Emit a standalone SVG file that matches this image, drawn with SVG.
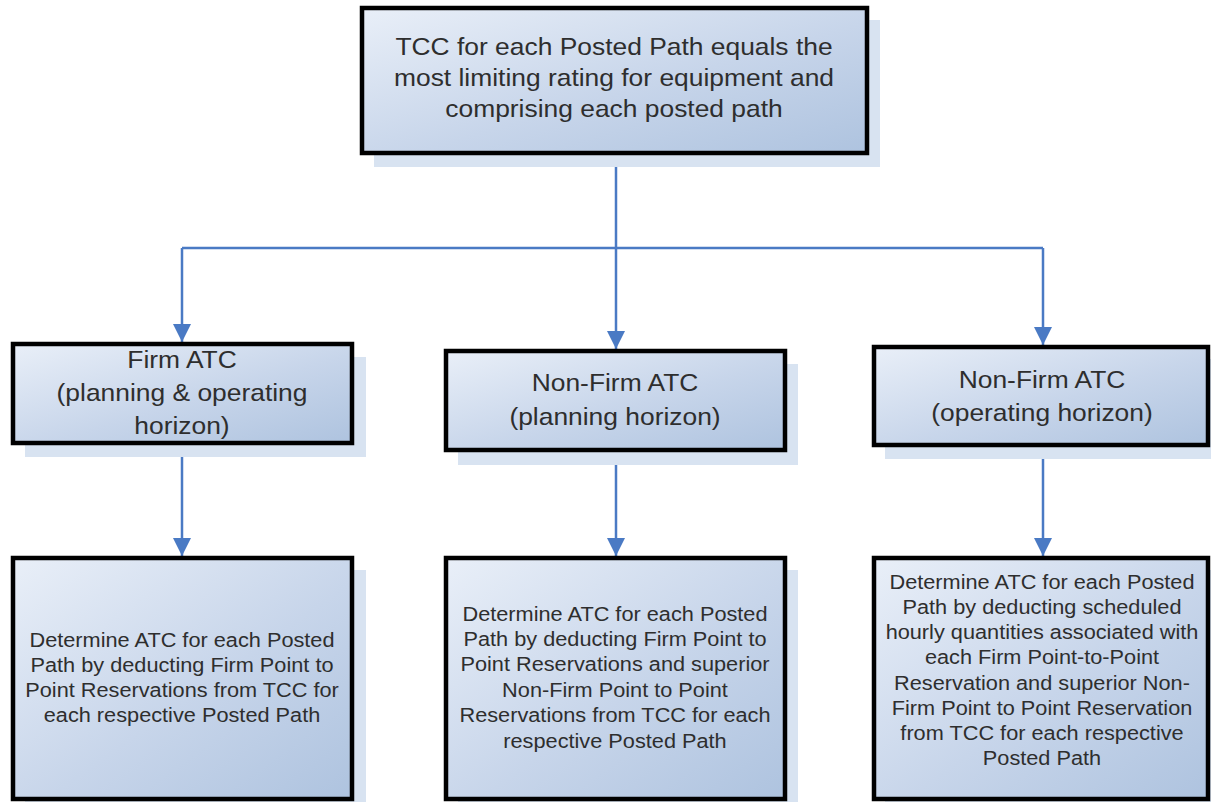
<svg xmlns="http://www.w3.org/2000/svg" width="1211" height="802" viewBox="0 0 1211 802">
<defs>
<linearGradient id="fill" x1="0" y1="0" x2="1" y2="1">
<stop offset="0" stop-color="#e9eff8"/>
<stop offset="0.55" stop-color="#c7d5ea"/>
<stop offset="1" stop-color="#aec3df"/>
</linearGradient>
<marker id="arrow" viewBox="0 0 10 10" refX="10" refY="5" markerWidth="18" markerHeight="18" markerUnits="userSpaceOnUse" orient="auto">
<path d="M0,0 L10,5 L0,10 z" fill="#4a7ac4"/>
</marker>
<style>
.shadow{fill:#d8e3f1;}
.box{fill:url(#fill);stroke:#000;stroke-width:4.5;}
.t{font-family:"Liberation Sans",Arial,sans-serif;fill:#2e2e2e;text-anchor:middle;}
.big{font-size:24px;}
.small{font-size:21px;}
.conn{fill:none;stroke:#4a7ac4;stroke-width:2.5;}
</style>
</defs>
<rect width="1211" height="802" fill="#ffffff"/>

<g id="connectors">
<line class="conn" x1="616" y1="154" x2="616" y2="248"/>
<line class="conn" x1="182" y1="248" x2="1043" y2="248"/>
<line class="conn" x1="182" y1="248" x2="182" y2="342" marker-end="url(#arrow)"/>
<line class="conn" x1="616" y1="248" x2="616" y2="349" marker-end="url(#arrow)"/>
<line class="conn" x1="1043" y1="248" x2="1043" y2="345" marker-end="url(#arrow)"/>
<line class="conn" x1="182" y1="444" x2="182" y2="556" marker-end="url(#arrow)"/>
<line class="conn" x1="616" y1="451" x2="616" y2="556" marker-end="url(#arrow)"/>
<line class="conn" x1="1043" y1="446" x2="1043" y2="556" marker-end="url(#arrow)"/>
</g>

<g id="tcc">
<rect class="shadow" x="374" y="20" width="506" height="147"/>
<rect class="box" x="362" y="8" width="505" height="145"/>
<text class="t big" transform="translate(614 0) scale(1.1 1)"><tspan x="0" y="55">TCC for each Posted Path equals the</tspan><tspan x="0" y="86">most limiting rating for equipment and</tspan><tspan x="0" y="117">comprising each posted path</tspan></text>
</g>

<g id="firm">
<rect class="shadow" x="25" y="357" width="341" height="100"/>
<rect class="box" x="13" y="344" width="339" height="99"/>
<text class="t big" transform="translate(182 0) scale(1.1 1)"><tspan x="0" y="368">Firm ATC</tspan><tspan x="0" y="401">(planning &amp; operating</tspan><tspan x="0" y="434">horizon)</tspan></text>
</g>

<g id="nonfirm-planning">
<rect class="shadow" x="458" y="364" width="340" height="101"/>
<rect class="box" x="446" y="351" width="339" height="99"/>
<text class="t big" transform="translate(615 0) scale(1.1 1)"><tspan x="0" y="391">Non-Firm ATC</tspan><tspan x="0" y="425">(planning horizon)</tspan></text>
</g>

<g id="nonfirm-operating">
<rect class="shadow" x="885" y="359" width="326" height="100"/>
<rect class="box" x="874" y="347" width="334" height="98"/>
<text class="t big" transform="translate(1042 0) scale(1.1 1)"><tspan x="0" y="388">Non-Firm ATC</tspan><tspan x="0" y="421">(operating horizon)</tspan></text>
</g>

<g id="firm-detail">
<rect class="shadow" x="25" y="570" width="341" height="232"/>
<rect class="box" x="13" y="558" width="339" height="241"/>
<text class="t small" transform="translate(182 0) scale(1.035 1)"><tspan x="0" y="647">Determine ATC for each Posted</tspan><tspan x="0" y="672">Path by deducting Firm Point to</tspan><tspan x="0" y="697">Point Reservations from TCC for</tspan><tspan x="0" y="722">each respective Posted Path</tspan></text>
</g>

<g id="planning-detail">
<rect class="shadow" x="458" y="570" width="340" height="232"/>
<rect class="box" x="446" y="558" width="339" height="241"/>
<text class="t small" transform="translate(615 0) scale(1.035 1)"><tspan x="0" y="621">Determine ATC for each Posted</tspan><tspan x="0" y="646">Path by deducting Firm Point to</tspan><tspan x="0" y="671">Point Reservations and superior</tspan><tspan x="0" y="697">Non-Firm Point to Point</tspan><tspan x="0" y="722">Reservations from TCC for each</tspan><tspan x="0" y="748">respective Posted Path</tspan></text>
</g>

<g id="operating-detail">
<rect class="shadow" x="885" y="570" width="326" height="232"/>
<rect class="box" x="874" y="558" width="334" height="241"/>
<text class="t small" transform="translate(1042 0) scale(1.035 1)"><tspan x="0" y="589">Determine ATC for each Posted</tspan><tspan x="0" y="614">Path by deducting scheduled</tspan><tspan x="0" y="639">hourly quantities associated with</tspan><tspan x="0" y="664">each Firm Point-to-Point</tspan><tspan x="0" y="690">Reservation and superior Non-</tspan><tspan x="0" y="715">Firm Point to Point Reservation</tspan><tspan x="0" y="740">from TCC for each respective</tspan><tspan x="0" y="765">Posted Path</tspan></text>
</g>
</svg>
